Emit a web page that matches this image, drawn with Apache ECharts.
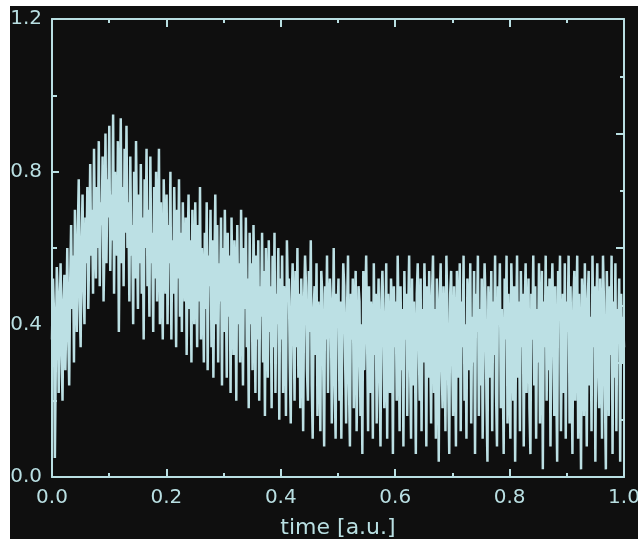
<!DOCTYPE html>
<html>
<head>
<meta charset="utf-8">
<script src="https://cdn.jsdelivr.net/npm/echarts@6/dist/echarts.min.js"></script>
<style>
html,body{margin:0;padding:0;background:#ffffff;overflow:hidden;}
#chart{width:638px;height:539px;}
</style>
</head>
<body>
<div id="chart"></div>
<script>
var signal = [
0.36,0.52,0.44,0.05,0.30,0.55,0.48,0.22,0.40,0.56,0.34,0.20,0.46,0.53,0.28,0.42,0.60,0.38,0.24,0.50,
0.66,0.44,0.58,0.30,0.70,0.52,0.38,0.64,0.78,0.46,0.34,0.62,0.74,0.50,0.40,0.68,0.56,0.76,0.44,0.60,
0.82,0.58,0.70,0.48,0.86,0.64,0.52,0.76,0.60,0.88,0.50,0.72,0.66,0.84,0.46,0.62,0.90,0.56,0.78,0.68,
0.92,0.54,0.74,0.62,0.95,0.48,0.80,0.66,0.58,0.88,0.38,0.70,0.94,0.56,0.76,0.50,0.86,0.64,0.92,0.60,
0.72,0.46,0.84,0.58,0.66,0.40,0.80,0.52,0.88,0.62,0.44,0.74,0.56,0.82,0.48,0.68,0.36,0.78,0.60,0.86,
0.50,0.70,0.42,0.84,0.56,0.64,0.38,0.76,0.52,0.80,0.46,0.60,0.86,0.40,0.72,0.54,0.36,0.78,0.62,0.48,
0.74,0.40,0.66,0.56,0.80,0.36,0.62,0.48,0.76,0.58,0.34,0.70,0.52,0.78,0.42,0.64,0.38,0.72,0.54,0.46,
0.68,0.32,0.58,0.74,0.44,0.62,0.30,0.70,0.50,0.40,0.72,0.56,0.34,0.66,0.46,0.76,0.36,0.60,0.52,0.30,
0.64,0.44,0.72,0.28,0.58,0.50,0.70,0.34,0.62,0.26,0.54,0.74,0.40,0.66,0.30,0.56,0.46,0.68,0.24,0.60,
0.38,0.70,0.50,0.26,0.64,0.42,0.58,0.22,0.68,0.46,0.32,0.62,0.54,0.20,0.66,0.40,0.56,0.30,0.70,0.48,
0.24,0.60,0.44,0.68,0.34,0.52,0.18,0.64,0.40,0.56,0.28,0.66,0.46,0.22,0.58,0.36,0.62,0.20,0.50,0.42,
0.64,0.30,0.54,0.16,0.60,0.44,0.26,0.62,0.38,0.50,0.18,0.58,0.34,0.64,0.22,0.48,0.40,0.60,0.15,0.52,
0.36,0.58,0.22,0.50,0.44,0.16,0.62,0.48,0.52,0.30,0.14,0.46,0.56,0.40,0.20,0.54,0.34,0.60,0.26,0.48,
0.18,0.52,0.42,0.12,0.46,0.58,0.50,0.28,0.20,0.54,0.38,0.62,0.24,0.10,0.44,0.50,0.32,0.56,0.16,0.46,
0.40,0.12,0.54,0.48,0.30,0.08,0.50,0.36,0.58,0.22,0.44,0.52,0.46,0.14,0.34,0.60,0.26,0.10,0.48,0.42,
0.52,0.20,0.46,0.10,0.38,0.56,0.50,0.30,0.14,0.44,0.58,0.24,0.08,0.48,0.36,0.52,0.18,0.42,0.54,0.12,
0.30,0.50,0.46,0.16,0.40,0.06,0.54,0.28,0.44,0.58,0.36,0.12,0.50,0.22,0.46,0.40,0.10,0.56,0.32,0.48,
0.14,0.38,0.52,0.26,0.08,0.46,0.54,0.42,0.18,0.30,0.56,0.10,0.48,0.36,0.22,0.52,0.44,0.06,0.50,0.34,
0.46,0.20,0.58,0.40,0.12,0.50,0.28,0.44,0.08,0.54,0.36,0.48,0.16,0.42,0.58,0.30,0.10,0.52,0.24,0.46,
0.34,0.06,0.48,0.56,0.38,0.20,0.52,0.12,0.44,0.30,0.56,0.42,0.08,0.50,0.26,0.54,0.36,0.14,0.48,0.58,
0.22,0.44,0.10,0.52,0.40,0.04,0.46,0.56,0.30,0.18,0.50,0.38,0.12,0.58,0.44,0.24,0.06,0.48,0.54,0.32,
0.16,0.50,0.36,0.08,0.54,0.42,0.26,0.56,0.12,0.46,0.34,0.58,0.20,0.40,0.10,0.52,0.44,0.28,0.56,0.14,
0.42,0.30,0.54,0.06,0.48,0.38,0.58,0.16,0.44,0.24,0.52,0.10,0.36,0.56,0.46,0.20,0.04,0.50,0.40,0.26,
0.54,0.12,0.46,0.32,0.58,0.22,0.08,0.50,0.40,0.56,0.18,0.44,0.28,0.06,0.52,0.36,0.58,0.14,0.48,0.30,
0.10,0.56,0.42,0.20,0.50,0.04,0.38,0.58,0.26,0.46,0.12,0.54,0.34,0.48,0.08,0.44,0.56,0.22,0.40,0.52,
0.18,0.06,0.48,0.36,0.58,0.24,0.50,0.10,0.44,0.30,0.56,0.14,0.42,0.54,0.02,0.46,0.34,0.58,0.20,0.50,
0.28,0.52,0.08,0.44,0.56,0.38,0.16,0.50,0.26,0.04,0.54,0.42,0.58,0.12,0.36,0.48,0.22,0.56,0.10,0.46,
0.38,0.58,0.14,0.50,0.30,0.06,0.46,0.54,0.20,0.40,0.58,0.10,0.48,0.32,0.02,0.52,0.44,0.16,0.56,0.36,
0.08,0.46,0.54,0.24,0.42,0.12,0.58,0.34,0.50,0.04,0.44,0.56,0.28,0.18,0.52,0.38,0.10,0.58,0.46,0.22,
0.02,0.54,0.40,0.16,0.50,0.32,0.58,0.06,0.46,0.26,0.56,0.12,0.44,0.36,0.52,0.04,0.48,0.30,0.42,0.34
];
var xTickLabels = ['0.0','0.2','0.4','0.6','0.8','1.0'];
var yTickLabels = ['0.0','0.4','0.8','1.2'];
var xAxisTitle = 'time [a.u.]';

var fg = '#b9dfe2';
var bg = '#0f0f0f';
var FONT = 'DejaVu Sans';
var points = signal.map(function(v, i){ return [i/(signal.length-1), v]; });

function tickAxis(base, len, withLine){
  var o = {
    type:'value',
    axisLine:{show:withLine, onZero:false, lineStyle:{color:fg, width:2}},
    axisTick:{show:true, inside:true, length:len, lineStyle:{color:fg, width:2}},
    splitLine:{show:false},
    axisLabel:{show:false}
  };
  for (var k in base) o[k] = base[k];
  return o;
}

// grid 0: main axes with labels and long ticks
var xMajorBottom = tickAxis({gridIndex:0, position:'bottom', min:0, max:1, interval:0.2}, 8, true);
xMajorBottom.axisLabel = {show:true, color:fg, fontSize:20, fontFamily:FONT, margin:11,
  formatter:function(v){ return xTickLabels[Math.round(v/0.2)]; }};
xMajorBottom.name = xAxisTitle;
xMajorBottom.nameLocation = 'middle';
xMajorBottom.nameGap = 40;
xMajorBottom.nameTextStyle = {color:fg, fontSize:22, fontFamily:FONT};

var yMajorLeft = tickAxis({gridIndex:0, position:'left', min:0, max:1.2, interval:0.4}, 7, true);
yMajorLeft.axisLabel = {show:true, color:fg, fontSize:20, fontFamily:FONT, margin:10,
  formatter:function(v){ return yTickLabels[Math.round(v/0.4)]; }};

var gridBox = {left:52, top:19, right:14, bottom:62, containLabel:false, outerBoundsMode:'none'};
var chart = echarts.init(document.getElementById('chart'));
chart.setOption({
  backgroundColor:'#ffffff',
  animation:false,
  graphic:[{type:'rect', shape:{x:10,y:6,width:628,height:533}, style:{fill:bg}, z:-10, silent:true}],
  grid:[gridBox, Object.assign({}, gridBox)],
  xAxis:[
    xMajorBottom,
    tickAxis({gridIndex:0, position:'top', min:0, max:1, interval:0.2}, 8, true),
    tickAxis({gridIndex:1, position:'bottom', min:0, max:1, interval:0.1}, 4, false),
    tickAxis({gridIndex:1, position:'top', min:0, max:1, interval:0.1}, 4, false)
  ],
  yAxis:[
    yMajorLeft,
    tickAxis({gridIndex:0, position:'right', min:0, max:8, interval:2}, 8, true),
    tickAxis({gridIndex:1, position:'left', min:0, max:1.2, interval:0.2}, 5, false),
    tickAxis({gridIndex:1, position:'right', min:0, max:8, interval:1}, 4, false)
  ],
  series:[{
    type:'line', xAxisIndex:0, yAxisIndex:0, data:points,
    showSymbol:false, symbol:'none',
    lineStyle:{color:'#bce0e4', width:2.5},
    z:3, clip:true
  }]
});
</script>
</body>
</html>
